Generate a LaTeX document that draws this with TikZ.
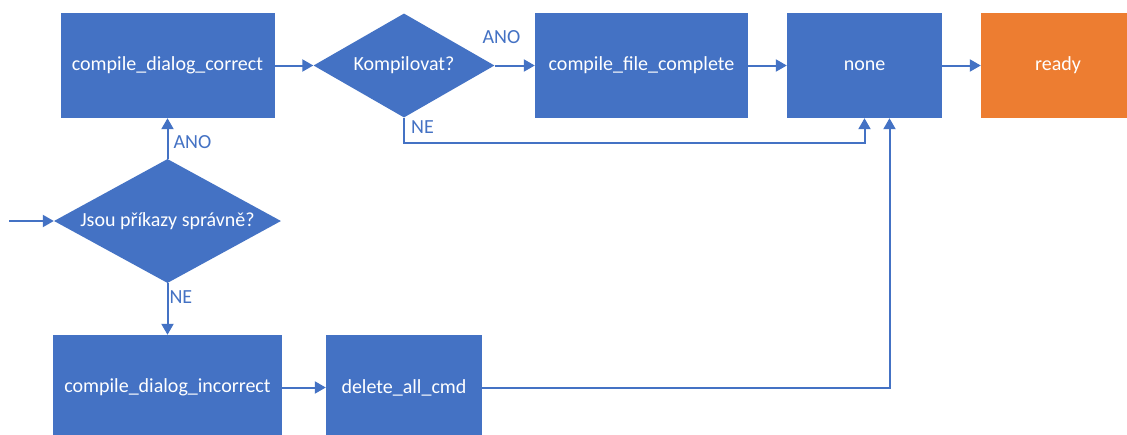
\documentclass[tikz,border=0pt]{standalone}
\usepackage{fontspec}
\setmainfont{Carlito}
\usetikzlibrary{arrows.meta,shapes.geometric}
\definecolor{flowblue}{HTML}{4472C4}
\definecolor{floworange}{HTML}{ED7D31}
\begin{document}
\begin{tikzpicture}[x=1pt,y=-1pt,
  every node/.style={font=\fontsize{20}{24}\selectfont},
  proc/.style={rectangle, fill=flowblue, text=white, inner sep=0pt, minimum height=105pt},
  done/.style={proc, fill=floworange},
  decide/.style={diamond, aspect=1.8, fill=flowblue, text=white, inner sep=0pt},
  flow/.style={draw=flowblue, line width=2pt, -{Triangle[length=11pt,width=12pt]}},
  lbl/.style={text=flowblue, inner sep=0pt}
]
\useasboundingbox (0,0) rectangle (1127,434);
\fill[white] (0,0) rectangle (1127,434);

% top row
\node[proc, minimum width=214pt] (cdc) at (167.5,65.5) {compile\_dialog\_correct};
\node[decide, minimum width=181pt, minimum height=104pt] (komp) at (404,65.5) {Kompilovat?};
\node[proc, minimum width=213pt] (cfc) at (641.5,65.5) {compile\_file\_complete};
\node[proc, minimum width=155pt] (none) at (864.5,65.5) {none};
\node[done, minimum width=154pt] (ready) at (1058,65.5) {ready};

% decision and lower row
\node[decide, minimum width=227pt, minimum height=124pt] (jsou) at (167.5,221) {Jsou příkazy správně?};
\node[proc, minimum width=229pt] (cdi) at (167.5,387.5) {compile\_dialog\_incorrect};
\node[proc, minimum width=156pt] (del) at (404,387.5) {delete\_all\_cmd};

\coordinate (start) at (9,221);
\coordinate (neline) at (0,143);

% connectors
\draw[flow] (start) -- (jsou.west);
\draw[flow] (jsou.north) -- (cdc.south)
  node[lbl, pos=0.4, anchor=west, xshift=5pt] (ano1) {ANO};
\draw[flow] (jsou.south) -- (cdi.north)
  node[lbl, pos=0.27, anchor=west, xshift=1pt] (ne1) {NE};
\draw[flow] (cdc.east) -- (komp.west);
\draw[flow] (komp.east) -- (cfc.west);
\node[lbl] (ano2) at (501.5,37) {ANO};
\draw[flow] (cfc.east) -- (none.west);
\draw[flow] (none.east) -- (ready.west);
\draw[flow] (komp.south) -- (komp.south |- neline) -| (none.south);
\node[lbl, anchor=west] (ne2) at (411,127) {NE};
\draw[flow] (cdi.east) -- (del.west);
\draw[flow] (del.east) -| ([xshift=25pt]none.south);
\end{tikzpicture}
\end{document}
